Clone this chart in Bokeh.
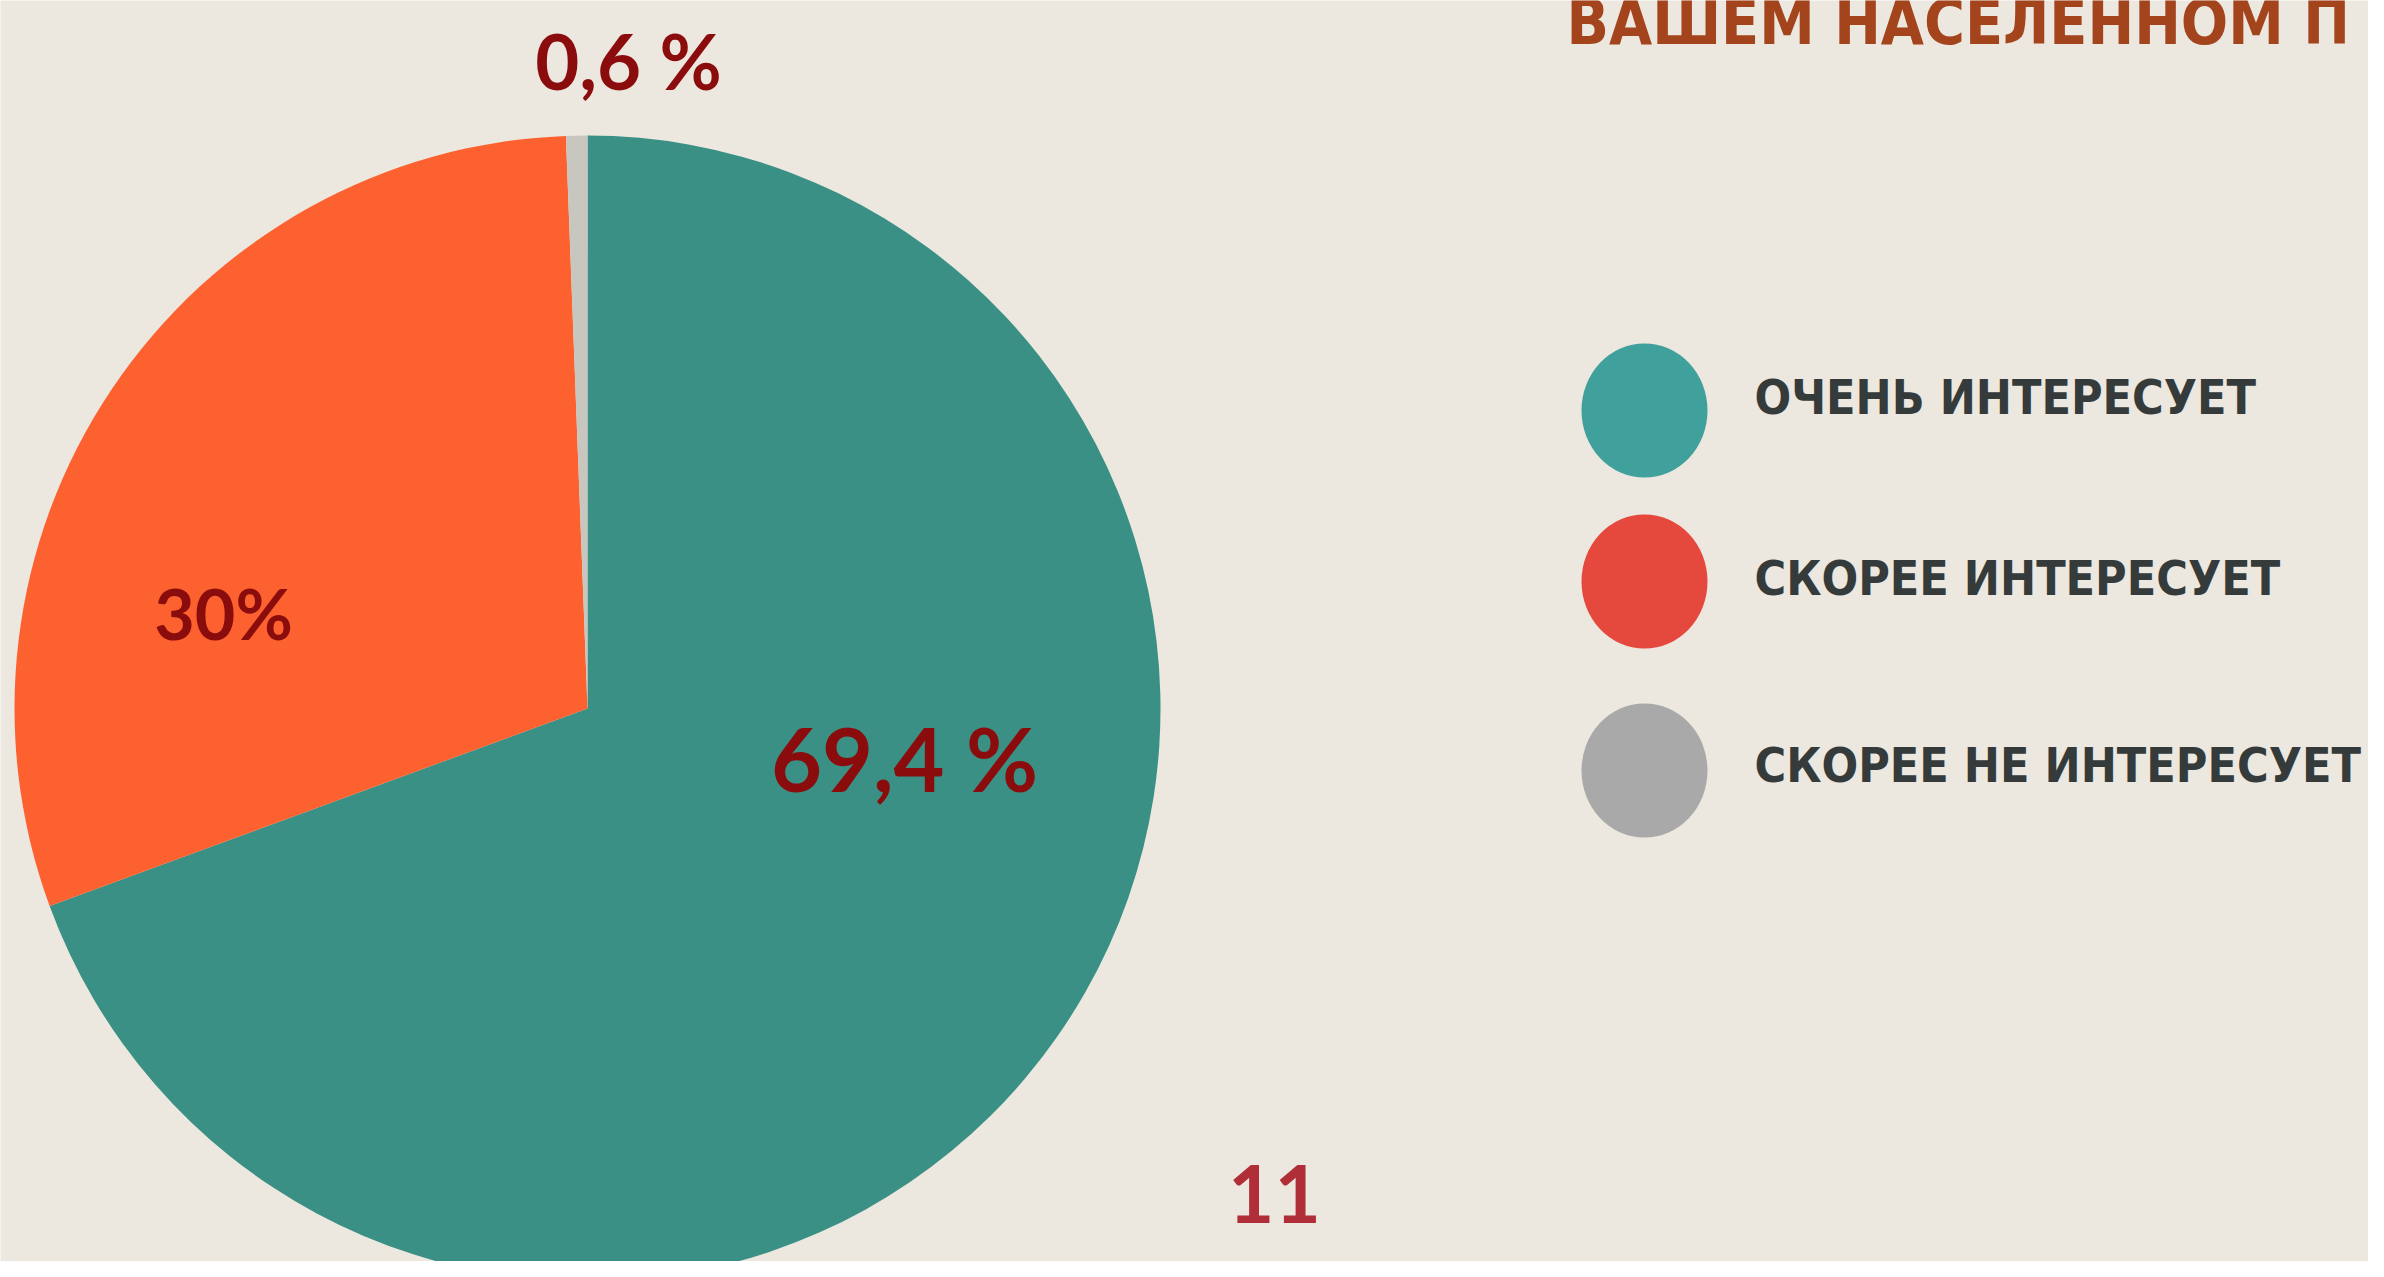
from bokeh.plotting import figure
from bokeh.models import ColumnDataSource, Range1d
from bokeh.core.properties import value
from bokeh.embed import file_html
from bokeh.resources import INLINE
import math

# ---- data ----
categories = ["ОЧЕНЬ ИНТЕРЕСУЕТ", "СКОРЕЕ ИНТЕРЕСУЕТ", "СКОРЕЕ НЕ ИНТЕРЕСУЕТ"]
shares = [69.4, 30.0, 0.6]
share_labels = ["69,4 %", "30%", "0,6 %"]
title_text = "ВАШЕМ НАСЕЛЕННОМ П"
page_number = "11"

# ---- styles / layout ----
W, H = 2368, 1261
REF_H = 1277
pie_colors = ["#3a9084", "#fd612f", "#c8c7bf"]
legend_colors = ["#40a09b", "#e5483c", "#a9a9a9"]
bg = "#ece7df"
COND = "DejaVu Sans Condensed"

def fy(y):  # reference-pixel y -> data y
    return REF_H - y

cx, cy, r = 595, fy(716), 573
label_pos = [(912, 765), (231, 620), (636, 68)]
label_sizes = ["88px", "70px", "76px"]
legend_marker_x = 1652
legend_marker_y = [418, 589, 778]
legend_text_x = 1762
legend_text_y = [404, 585, 772]

p = figure(width=W, height=H, output_backend="svg", toolbar_location=None,
           x_range=Range1d(8, 8 + W), y_range=Range1d(REF_H - 8 - H, REF_H - 8),
           min_border=0)
p.axis.visible = False
p.grid.visible = False
p.outline_line_color = None
p.background_fill_color = bg
p.border_fill_color = bg

# pie wedges (clockwise from 12 o'clock)
total = sum(shares)
starts, ends = [], []
acc = 0.0
for s in shares:
    starts.append(math.pi / 2 - 2 * math.pi * acc / total)
    acc += s
    ends.append(math.pi / 2 - 2 * math.pi * acc / total)

src = ColumnDataSource(dict(cat=categories, share=shares, start=starts, end=ends, color=pie_colors))
p.wedge(x=cx, y=cy, radius=r, start_angle="start", end_angle="end", direction="clock",
        fill_color="color", line_color=None, source=src)

# value labels
for (lx, ly), txt, sz in zip(label_pos, share_labels, label_sizes):
    p.text(x=[lx], y=[fy(ly)], text=[txt], text_color="#8b0c0c", text_font=value("Lato"),
           text_font_style="bold", text_font_size=sz, text_align="center", text_baseline="middle")

# legend
p.ellipse(x=[legend_marker_x] * 3, y=[fy(v) for v in legend_marker_y], width=126, height=134,
          fill_color=legend_colors, line_color=None)
p.text(x=[legend_text_x] * 3, y=[fy(v) for v in legend_text_y], text=categories,
       text_color="#353b3b", text_font=value(COND), text_font_style="bold",
       text_font_size="48px", text_align="left", text_baseline="middle")

# title (cut off at the top like the slide)
p.text(x=[1574], y=[fy(30)], text=[title_text], text_color="#a3441c",
       text_font=value(COND), text_font_style="bold",
       text_font_size="62px", text_align="left", text_baseline="alphabetic")

# page number
p.text(x=[1282], y=[fy(1201)], text=[page_number], text_color="#b02e38",
       text_font=value("Lato"), text_font_style="bold", text_font_size="80px",
       text_align="center", text_baseline="middle")

open("out.html", "w").write(file_html(p, INLINE))
